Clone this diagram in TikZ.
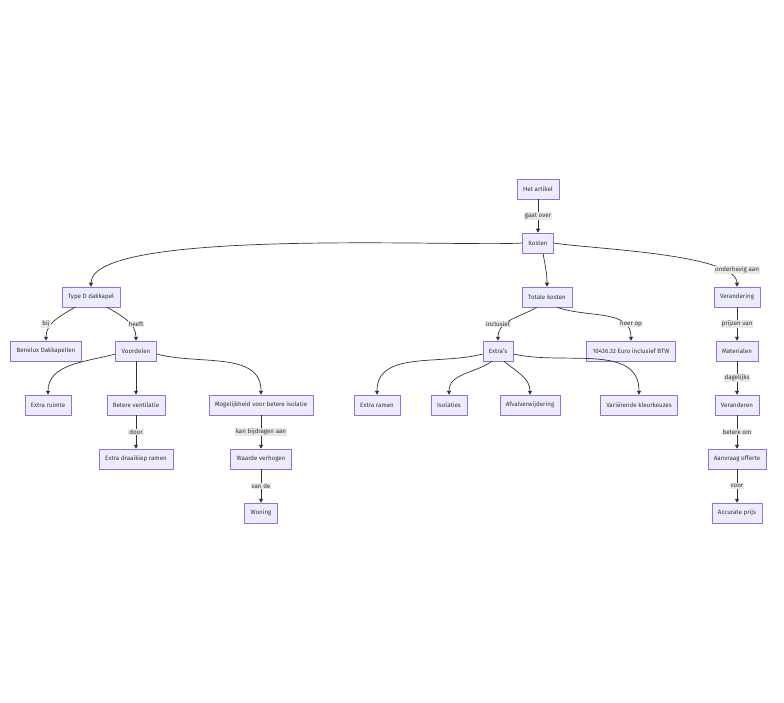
\documentclass[tikz,border=0pt]{standalone}
\usepackage{fontspec}
\setmainfont{Fira Sans}
\usetikzlibrary{arrows.meta}
\definecolor{nfill}{HTML}{ECECFF}
\definecolor{ndraw}{HTML}{9370DB}
\definecolor{txt}{HTML}{333333}
\definecolor{lbl}{HTML}{E8E8E8}
\begin{document}
\begin{tikzpicture}[x=1pt,y=-1pt,
  box/.style={draw=ndraw,fill=nfill,text=txt,font=\fontsize{6.2}{7}\selectfont,minimum height=20pt,inner xsep=6pt,inner ysep=0pt,line width=0.5pt},
  lab/.style={fill=lbl,text=txt,font=\fontsize{6.2}{7}\selectfont,inner sep=1pt},
  arr/.style={draw=txt,line width=0.7pt,-{Triangle[length=4pt,width=4pt]}}]
\useasboundingbox (0,0) rectangle (784,703);
\node[box] (het) at (538,189) {Het artikel};
\node[box] (kosten) at (538,243) {Kosten};
\node[box] (typed) at (91,297) {Type D dakkapel};
\node[box] (totale) at (547,297) {Totale kosten};
\node[box] (verandering) at (737,297) {Verandering};
\node[box] (benelux) at (46,351) {Benelux Dakkapellen};
\node[box] (voordelen) at (136,351) {Voordelen};
\node[box] (extras) at (498,351) {Extra's};
\node[box] (prijs) at (631,351) {10436.32 Euro inclusief BTW};
\node[box] (materialen) at (737,351) {Materialen};
\node[box] (ruimte) at (48,405) {Extra ruimte};
\node[box] (ventilatie) at (136,405) {Betere ventilatie};
\node[box] (mogelijk) at (261,405) {Mogelijkheid voor betere isolatie};
\node[box] (ramen) at (377,405) {Extra ramen};
\node[box] (isolaties) at (449,405) {Isolaties};
\node[box] (afval) at (530,405) {Afvalverwijdering};
\node[box] (kleur) at (639,405) {Variërende kleurkeuzes};
\node[box] (veranderen) at (737,405) {Veranderen};
\node[box] (draaikiep) at (136,459) {Extra draaikiep ramen};
\node[box] (waarde) at (261,459) {Waarde verhogen};
\node[box] (offerte) at (737,459) {Aanvraag offerte};
\node[box] (woning) at (261,513) {Woning};
\node[box] (accurate) at (737,513) {Accurate prijs};

\draw[arr] (het) -- (kosten);
\draw[arr] (kosten.west) to[out=184,in=90,looseness=0.35] (typed.north);
\draw[arr] (kosten.south) ++(5,0) coordinate (k1) (k1) to[out=-80,in=90] (totale.north);
\draw[arr] (kosten.east) to[out=-10,in=90,looseness=0.45] (verandering.north);
\draw[arr] (typed.south) ++(-16,0) coordinate (t1) (t1) to[out=-150,in=90] (benelux.north);
\draw[arr] (typed.south) ++(16,0) coordinate (t2) (t2) to[out=-30,in=90] (voordelen.north);
\draw[arr] (voordelen.west) ++(0,3) coordinate (v1) (v1) to[out=-165,in=90] (ruimte.north);
\draw[arr] (voordelen) -- (ventilatie);
\draw[arr] (voordelen.east) ++(0,3) coordinate (v2) (v2) to[out=-15,in=90] (mogelijk.north);
\draw[arr] (ventilatie) -- (draaikiep);
\draw[arr] (mogelijk) -- (waarde);
\draw[arr] (waarde) -- (woning);
\draw[arr] (totale.south) ++(-10,0) coordinate (o1) (o1) to[out=-150,in=90] (extras.north);
\draw[arr] (totale.south) ++(10,0) coordinate (o2) (o2) to[out=-20,in=90] (prijs.north);
\draw[arr] (extras.west) ++(0,3) coordinate (e1) (e1) to[out=-165,in=90] (ramen.north);
\draw[arr] (extras.south) ++(-6,0) coordinate (e2) (e2) to[out=-145,in=90] (isolaties.north);
\draw[arr] (extras.south) ++(6,0) coordinate (e3) (e3) to[out=-40,in=90] (afval.north);
\draw[arr] (extras.east) ++(0,3) coordinate (e4) (e4) to[out=-13,in=90] (kleur.north);
\draw[arr] (verandering) -- (materialen);
\draw[arr] (materialen) -- (veranderen);
\draw[arr] (veranderen) -- (offerte);
\draw[arr] (offerte) -- (accurate);

\node[lab] (l1) at (538,216) {gaat over};
\node[lab] (l2) at (46,324) {bij};
\node[lab] (l3) at (136,324) {heeft};
\node[lab] (l4) at (498,324) {inclusief};
\node[lab] (l5) at (631,324) {neer op};
\node[lab] (l6) at (737,270) {onderhevig aan};
\node[lab] (l7) at (737,324) {prijzen van};
\node[lab] (l8) at (737,378) {dagelijks};
\node[lab] (l9) at (737,432) {betere om};
\node[lab] (l10) at (737,486) {voor};
\node[lab] (l11) at (136,432) {door};
\node[lab] (l12) at (261,432) {kan bijdragen aan};
\node[lab] (l13) at (261,486) {van de};
\end{tikzpicture}
\end{document}
